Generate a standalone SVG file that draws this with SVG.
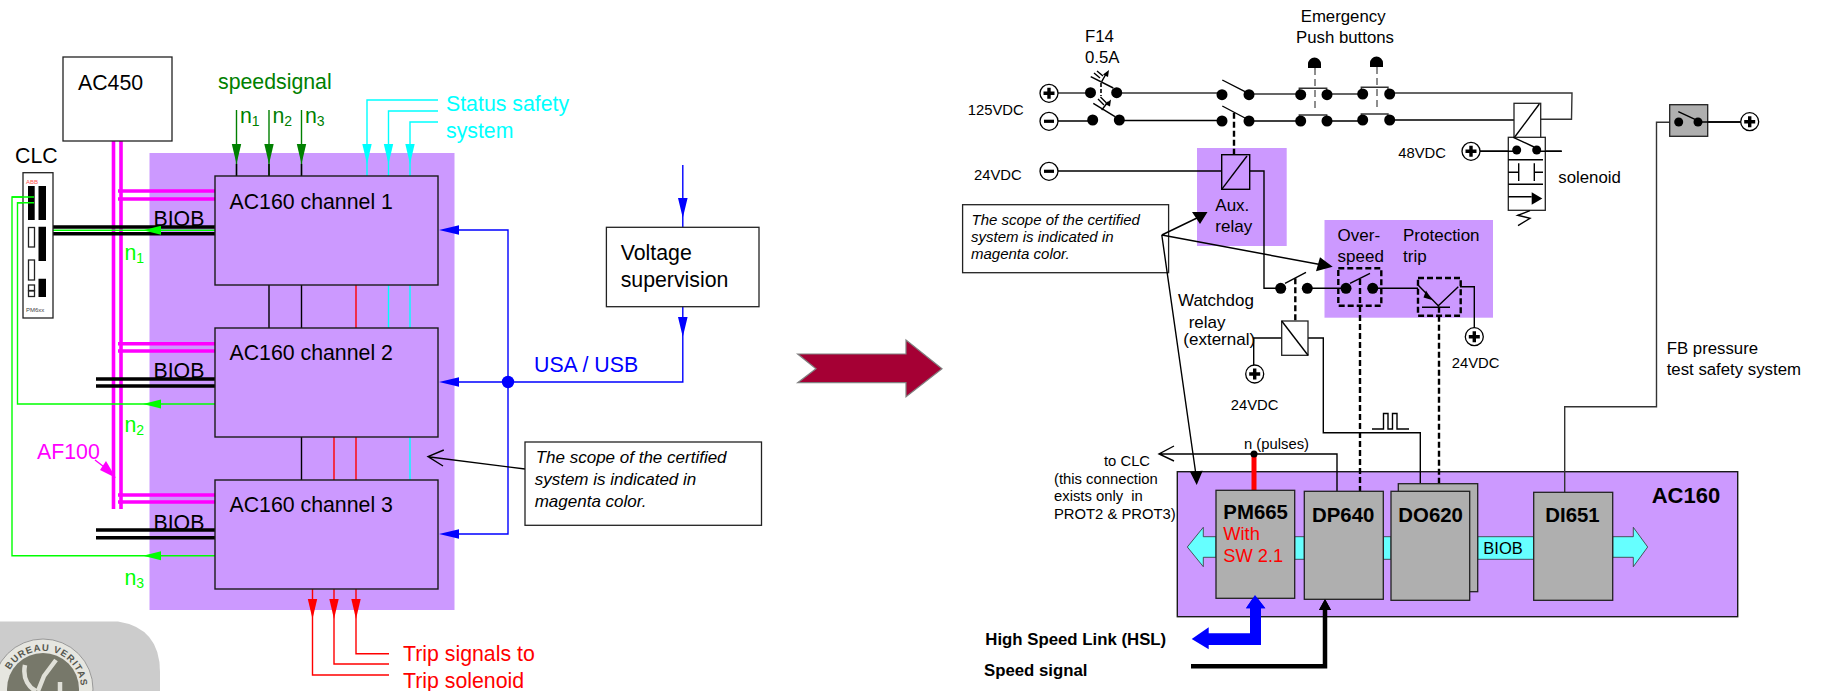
<svg xmlns="http://www.w3.org/2000/svg" xmlns:xlink="http://www.w3.org/1999/xlink" width="1822" height="691" viewBox="0 0 1822 691">
<style>
text{font-family:"Liberation Sans",Arial,sans-serif;fill:#000}
.f21{font-size:21.3px}.f17{font-size:17px}.f15{font-size:14.8px}.f168{font-size:16.8px}
.i{font-style:italic}.b{font-weight:bold}
.blk{fill:none;stroke:#000;stroke-width:1.4}
.gry{fill:none;stroke:#333;stroke-width:1.4}
.box{stroke:#1a1a1a;stroke-width:1.4}
.pur{fill:#CC99FF}.gr{fill:#AFAFAF;stroke:#222;stroke-width:1.3}.wh{fill:#fff;stroke:#222;stroke-width:1.3}
.dg{fill:none;stroke:#008000;stroke-width:1.4}.cy{fill:none;stroke:#00FFFF;stroke-width:1.4}
.rd{fill:none;stroke:#FF0000;stroke-width:1.4}.bl{fill:none;stroke:#0000FF;stroke-width:1.4}
.lg{fill:none;stroke:#00FF00;stroke-width:1.4}.mg{fill:none;stroke:#FF00FF;stroke-width:3.6}
.bk2{fill:none;stroke:#000;stroke-width:3.6}
.dash{fill:none;stroke:#000;stroke-width:2.4;stroke-dasharray:6 3}
.thin{fill:none;stroke:#444;stroke-width:1.2;stroke-dasharray:7 4}
.dot{fill:#000}
</style>
<defs>
<g id="tplus"><circle r="9" fill="#fff" stroke="#000" stroke-width="1.3"/><path d="M-5.5 0H5.5M0 -5.5V5.5" stroke="#000" stroke-width="3.4"/></g>
<g id="tminus"><circle r="9" fill="#fff" stroke="#000" stroke-width="1.3"/><path d="M-5 0H5" stroke="#000" stroke-width="3.2"/></g>
<g id="ptip"><path d="M-4.7 0H4.7L0 20Z"/></g>
<path id="seal" d="M10 670A38 38 0 0 1 81 689"/>
</defs>

<g id="logo">
<path d="M0 621.5H118Q160 628 160 672V691H0Z" fill="#CCCCCC"/>
<circle cx="43" cy="689" r="50" fill="#E6E6E0" stroke="#999" stroke-width="1"/>
<circle cx="43" cy="689" r="36" fill="#77786A"/>
<path d="M25 665C22 680 30 688 36 691M56 660L44 676L38 691M60 682V691" fill="none" stroke="#E0E0D8" stroke-width="4.500"/>
<text font-size="9.500" font-weight="bold" style="fill:#55564E"><textPath xlink:href="#seal" href="#seal" textLength="96" lengthAdjust="spacing">BUREAU VERITAS</textPath></text>
</g>

<g id="scope-left"><rect class="pur" x="149.5" y="153" width="305" height="457"/></g>

<g id="aux-relay"><rect class="pur" x="1197" y="148" width="89.7" height="98"/>
<rect x="1221.7" y="154.7" width="28" height="34.6" fill="none" stroke="#000" stroke-width="1.4"/>
<path class="blk" d="M1221.7 189.3L1247 156"/>
<text class="f17" x="1215.3" y="210.7">Aux.</text><text class="f17" x="1215.3" y="232.3">relay</text></g>

<g id="protection"><rect class="pur" x="1324.5" y="220" width="168.5" height="97.7"/>
<text class="f17" x="1337.6" y="240.7">Over-</text><text class="f17" x="1337.6" y="261.7">speed</text><text class="f17" x="1403" y="240.7">Protection</text><text class="f17" x="1403" y="261.7">trip</text>
<rect x="1338.3" y="268.3" width="43" height="37.4" fill="none" stroke="#000" stroke-width="2.4" stroke-dasharray="6 3"/>
<rect x="1418" y="278" width="42.7" height="37.7" fill="none" stroke="#000" stroke-width="2.4" stroke-dasharray="6 3"/>
<path class="blk" d="M1418 285L1438.3 305.7L1458.3 286.7M1422 307.3H1450"/>
<path class="dot" d="M1426 290.5L1423.500 297.5L1432 300Z"/>
</g>

<g id="note-right"><rect class="wh" x="962.6" y="204.7" width="206" height="68"/>
<text class="i" font-size="15" x="971.5" y="225">The scope of the certified</text><text class="i" font-size="15" x="971" y="241.7">system is indicated in</text><text class="i" font-size="15" x="971" y="259">magenta color.</text></g>

<g id="ac160"><rect class="pur box" x="1177.3" y="471.7" width="560.4" height="145"/>
<text font-size="22" class="b" x="1651.7" y="503.3">AC160</text></g>

<g id="connectors">
<path class="mg" d="M113.5 141V509M121 141V509M118 191H215M118 199H215M118 343.7H215M118 351H215M118 495H215M118 502H215"/>
<path d="M95 460L108 470" fill="none" stroke="#FF00FF" stroke-width="1.4"/>
<path d="M116 478L100 470L106 461Z" fill="#FF00FF"/>
<path class="bk2" d="M53 227H215M53 233.7H215M96 379H215M96 386H215M96 530H215M96 537.7H215"/>
<path class="lg" d="M52 230.3H215M34 202.7H17.5V404H215M34 197H12V555.7H215"/>
<path fill="#00FF00" d="M143 230.3L161 225.8V234.8ZM143 404L161 399.5V408.5ZM143 555.7L161 551.2V560.2Z"/>
<path class="dg" d="M236.5 110V176M269 110V176M301.5 110V176"/>
<g fill="#008000"><use href="#ptip" x="236.5" y="144"/><use href="#ptip" x="269" y="144"/><use href="#ptip" x="301.5" y="144"/></g>
<path class="blk" d="M236.5 164V176M269 164V176M301.5 164V176M269 285V328M301.5 285V328M301.5 437V480"/>
<path class="cy" d="M438 100H367V176M438 111H388.5V176M438 122H410V176M388.5 285V328M410 285V328M410 437V480"/>
<g fill="#00FFFF"><use href="#ptip" x="367" y="144"/><use href="#ptip" x="388.5" y="144"/><use href="#ptip" x="410" y="144"/></g>
<path class="rd" d="M356 285V328M334 437V480M356 437V480M356 589V653.7H389M334 589V664H389M312.5 589V675H389"/>
<g fill="#FF0000"><use href="#ptip" x="312.5" y="599"/><use href="#ptip" x="334" y="599"/><use href="#ptip" x="356" y="599"/></g>
<path class="bl" d="M459 230H508V534H459M459 382H682.8V307M682.8 165V227M682.8 307V340"/>
<path fill="#0000FF" d="M439 230L459 225.3V234.7ZM439 382L459 377.3V386.7ZM439 534L459 529.3V538.7ZM682.8 218L678 198H687.6ZM682.8 337L678 317H687.6Z"/>
<circle cx="508" cy="382" r="6.2" fill="#0000FF"/>
<path class="blk" d="M525 469L428 456.7M443.8 450L428 456.7L443 466"/>

<path class="gry" d="M1058 93H1090.5M1116.7 93H1222V94.7M1249 94H1300M1327 94H1362M1390 93H1572L1571.5 119.3H1540"/>
<path class="blk" d="M1058 121H1092.7M1119 120.5H1222M1249 121H1300M1327 121H1362M1390 120H1514"/>
<path class="blk" d="M1090.7 76.7L1113.3 88M1093.3 103.3L1115 116.7M1222.3 80L1245 91.7M1222.3 106L1245 118"/>
<path class="blk" d="M1101.7 81.7L1106 74M1101.7 110L1108 102"/>
<path fill="#000" d="M1109 70L1108 77L1103 74.5ZM1111 99.5L1110 106.5L1105 104Z"/>
<path class="blk" d="M1094 73L1100 78M1097 71L1103 76M1098 99L1104 105M1100.5 97L1106.5 103" stroke-width="1"/>
<path fill="none" stroke="#000" stroke-width="1.6" stroke-dasharray="4 2" d="M1101 83V96"/>
<path class="dash" d="M1234 112.7V155"/>
<path class="gry" d="M1299.3 92V88.3H1326.7V92M1299.3 118V115H1326.7V118M1361.3 91V87.3H1388V91M1361.3 117V114H1388V117"/>
<path class="thin" d="M1315 68V110M1377 67V110"/>
<path class="blk" d="M1058 171H1221.7M1249.7 171H1264V288.3H1280.7M1307.3 288.3H1346M1372.7 288.3H1418M1460 286.7H1474.3V328"/>
<path class="blk" d="M1285 283.3L1306 272.3M1350 283.3L1370 273.3"/>
<path class="dash" d="M1295.3 278.3V321M1360 279V492.3M1439 306.7V491"/>
<path class="blk" d="M1281.7 338H1253.7V366M1306.7 338H1323.3V432.7H1420.3V483.3"/>
<path class="blk" d="M1372 429H1383.5V413.5H1388V429H1392.5V413.5H1397V429H1409"/>
<path class="blk" d="M1161.8 235L1197 218M1161.8 235L1320 264.5M1161.8 235L1196 475"/>
<path fill="#000" d="M1207.5 212H1192L1200 224ZM1332.7 266.7L1320 257.3L1316 271.3ZM1196.7 485L1190 471.7L1202.7 470.7Z"/>
<path class="blk" d="M1337 491V454H1159M1174 446L1159 454L1174 461"/>
<path fill="none" stroke="#FF0000" stroke-width="5" d="M1254 456V490"/>
<path fill="#0000FF" d="M1255 595L1265.3 608.3H1261V645H1208.7V649.3L1191.7 639L1208.7 627.3V633.3H1250V608.3H1246Z"/>
<path fill="none" stroke="#000" stroke-width="4.5" d="M1191 666.3H1325V606"/>
<path fill="#000" d="M1325 599L1331 610H1319Z"/>
<path class="gry" d="M1564.7 492V406.7H1656.5V122.3H1670"/>
<path class="blk" d="M1698 122H1741M1471 151.3H1516.7M1536.7 151.3H1561.7"/>
</g>

<g id="ac450"><rect class="wh" x="63" y="57" width="109" height="84"/><text class="f21" x="78" y="90">AC450</text></g>

<g id="clc">
<text class="f21" x="15" y="163">CLC</text>
<rect class="wh" x="23" y="172.7" width="30" height="145.3"/>
<text x="26" y="184" font-size="6" style="fill:#FF5050">ABB</text>
<path d="M28 186h6.7v34h-6.7zM38.5 186h7.5v34h-7.5zM38.5 226.7h7.5v34.3h-7.5zM38.5 278.7h7.5v18.3h-7.5z"/>
<rect class="wh" x="28.5" y="227.5" width="6" height="19.5"/><rect class="wh" x="28.5" y="260" width="6" height="20"/>
<rect class="wh" x="28.5" y="285" width="6" height="5.5"/><rect class="wh" x="28.5" y="291" width="6" height="5.5"/>
<text x="26" y="311.7" font-size="6" style="fill:#444">PM6xx</text>
<path class="lg" d="M17.5 202.7H34M12 197H34"/>
</g>

<g id="channel1"><rect class="pur box" x="215" y="176" width="223" height="109"/><text class="f21" x="229.5" y="209">AC160 channel 1</text></g>
<g id="channel2"><rect class="pur box" x="215" y="328" width="223" height="109"/><text class="f21" x="229.5" y="360">AC160 channel 2</text></g>
<g id="channel3"><rect class="pur box" x="215" y="480" width="223" height="109"/><text class="f21" x="229.5" y="512">AC160 channel 3</text></g>

<g id="labels-left">
<text class="f21" x="218" y="89" style="fill:#008000">speedsignal</text>
<text class="f21" x="240" y="122.7" style="fill:#008000">n<tspan font-size="14" dy="3">1</tspan></text>
<text class="f21" x="272.5" y="122.7" style="fill:#008000">n<tspan font-size="14" dy="3">2</tspan></text>
<text class="f21" x="305" y="122.7" style="fill:#008000">n<tspan font-size="14" dy="3">3</tspan></text>
<text class="f21" x="446" y="110.5" style="fill:#00FFFF">Status safety</text>
<text class="f21" x="446" y="138" style="fill:#00FFFF">system</text>
<text class="f21" x="153.5" y="226">BIOB</text><text class="f21" x="153.5" y="378">BIOB</text><text class="f21" x="153.5" y="530">BIOB</text>
<text class="f21" x="124.5" y="260" style="fill:#00FF00">n<tspan font-size="14" dy="3">1</tspan></text>
<text class="f21" x="124.5" y="432" style="fill:#00FF00">n<tspan font-size="14" dy="3">2</tspan></text>
<text class="f21" x="124.5" y="585" style="fill:#00FF00">n<tspan font-size="14" dy="3">3</tspan></text>
<text class="f21" x="37" y="459" style="fill:#FF00FF">AF100</text>
<text class="f21" x="403" y="661" style="fill:#FF0000">Trip signals to</text>
<text class="f21" x="403" y="688" style="fill:#FF0000">Trip solenoid</text>
<text class="f21" x="534" y="371.7" style="fill:#0000FF">USA / USB</text>
</g>

<g id="voltage"><rect class="wh" x="606.4" y="227.3" width="152.6" height="79.4"/><text class="f21" x="620.7" y="260">Voltage</text><text class="f21" x="620.7" y="287">supervision</text></g>
<g id="note-left"><rect class="wh" x="525" y="442" width="236.5" height="83.3"/>
<text class="i" font-size="17" x="535.7" y="463">The scope of the certified</text><text class="i" font-size="17" x="534.7" y="485">system is indicated in</text><text class="i" font-size="17" x="534.7" y="506.7">magenta color.</text></g>

<g id="big-arrow"><path d="M797.7 354H906V340L942 368.7L906 396.7V382.7H797.7L816 368.7Z" fill="#A50034" stroke="#808080" stroke-width="1.2"/></g>

<g id="power">
<use href="#tplus" x="1049" y="93.3"/><use href="#tminus" x="1049" y="121.3"/><use href="#tminus" x="1049" y="171.3"/>
<text class="f15" x="967.7" y="115">125VDC</text><text class="f15" x="974" y="180">24VDC</text>
<text class="f168" x="1085" y="41.7">F14</text><text class="f168" x="1085" y="62.7">0.5A</text>
<text class="f168" x="1300.7" y="22">Emergency</text><text class="f168" x="1296" y="42.7">Push buttons</text>
<g class="dot">
<circle cx="1090.5" cy="92.7" r="5.5"/><circle cx="1116.7" cy="92.7" r="5.5"/><circle cx="1092.7" cy="120" r="5.5"/><circle cx="1119.3" cy="120" r="5.5"/>
<circle cx="1222" cy="94.7" r="5.5"/><circle cx="1249" cy="94.7" r="5.5"/><circle cx="1222" cy="121" r="5.5"/><circle cx="1249" cy="121" r="5.5"/>
<circle cx="1300.7" cy="94.7" r="5.5"/><circle cx="1327" cy="94.7" r="5.5"/><circle cx="1300.7" cy="121" r="5.5"/><circle cx="1327" cy="121" r="5.5"/>
<circle cx="1362.7" cy="94" r="5.5"/><circle cx="1389.7" cy="94" r="5.5"/><circle cx="1362.7" cy="120" r="5.5"/><circle cx="1389.7" cy="120" r="5.5"/>
<path d="M1308 68V64A6.5 6.5 0 0 1 1321 64V68ZM1370 67V63A6.5 6.5 0 0 1 1383 63V67Z"/>
</g>
</g>

<g id="solenoid">
<rect class="wh" x="1514" y="103.3" width="26.7" height="34.7"/><path class="blk" d="M1514 138L1539.3 104"/>
<rect class="wh" x="1508.3" y="137.3" width="37" height="73"/>
<circle class="dot" cx="1516.7" cy="150" r="4.5"/><circle class="dot" cx="1536.7" cy="150" r="4.5"/>
<path class="blk" d="M1513.3 137.3L1534 147M1508.3 159.7H1543M1508.3 184.3H1543M1508.3 172.3H1518.7M1518.7 163.3V181M1534.3 163.3V181M1534.3 172.3H1543M1508.3 196.7H1531.7M1530 210.7L1517.7 215.3L1530 218.3L1518 225.7M1536.7 151.3H1561.7"/>
<path class="dot" d="M1531.7 192.3L1542.3 198.5L1531.7 204.7Z"/>
<path class="blk" d="M1480 151.3H1516.7"/>
<use href="#tplus" x="1471" y="151.3"/>
<text class="f15" x="1398.3" y="157.7">48VDC</text><text class="f168" x="1558.3" y="182.7">solenoid</text>
</g>

<g id="fb-switch"><rect class="gr" x="1669.7" y="104.7" width="38" height="31.6"/>
<circle class="dot" cx="1678.7" cy="122" r="4.5"/><circle class="dot" cx="1698" cy="122" r="4.5"/><path class="blk" d="M1678.3 111.7L1695 119.3M1698 122H1741"/>
<use href="#tplus" x="1749.7" y="121.7"/></g>
<g id="fb-label"><text class="f168" x="1666.7" y="354">FB pressure</text><text class="f168" x="1666.7" y="375.3">test safety system</text></g>

<g id="overspeed-relay" class="dot"><circle cx="1346" cy="288.3" r="5.5"/><circle cx="1372.7" cy="288.3" r="5.5"/></g>
<g id="watchdog">
<circle class="dot" cx="1280.7" cy="288.3" r="5.5"/><circle class="dot" cx="1307.3" cy="288.3" r="5.5"/>
<rect class="wh" x="1281.7" y="321" width="26.3" height="34.3"/><path class="blk" d="M1281.7 321L1308 355.3"/>
<use href="#tplus" x="1254.7" y="374"/><use href="#tplus" x="1474.3" y="336.7"/>
<text class="f17" x="1178" y="306">Watchdog</text><text class="f17" x="1188.7" y="328.3">relay</text><text class="f17" x="1183.3" y="345">(external)</text>
<text class="f15" x="1230.7" y="410">24VDC</text><text class="f15" x="1451.7" y="367.7">24VDC</text>
</g>

<g id="biob-bus">
<path d="M1187.3 547L1203.3 527.3V536.7H1216V557.3H1203.3V566.7ZM1294.7 536.7H1304.3V559.3H1294.7ZM1383.3 536.7H1391V559.3H1383.3ZM1477.7 536.7H1533.7V559.3H1477.7ZM1612.7 536.7H1633.3V527.3L1647.7 547L1633.3 566.7V557.3H1612.7Z" fill="#66FFFF" stroke="#333" stroke-width=".8"/>
<text font-size="16.5" x="1483.3" y="554">BIOB</text></g>
<g id="pm665"><rect class="gr" x="1216" y="490.3" width="78.7" height="108"/>
<text font-size="20.4" class="b" x="1223.3" y="519.3">PM665</text><text font-size="18.3" x="1223.3" y="540" style="fill:#FF0000">With</text><text font-size="18.3" x="1223.3" y="561.7" style="fill:#FF0000">SW 2.1</text></g>
<g id="dp640"><rect class="gr" x="1304.3" y="491.3" width="79" height="108"/><text font-size="20.4" class="b" x="1312" y="521.7">DP640</text></g>
<g id="do620"><rect class="gr" x="1398.3" y="483.7" width="79.4" height="108"/><rect class="gr" x="1391" y="491.3" width="78.7" height="109"/><text font-size="20.4" class="b" x="1398.3" y="521.7">DO620</text></g>
<g id="di651"><rect class="gr" x="1533.7" y="492.3" width="79" height="108"/><text font-size="20.4" class="b" x="1545.3" y="521.7">DI651</text></g>
<g id="overlay">
<path fill="#0000FF" d="M1255 595L1265.3 608.3H1246Z"/><path fill="#000" d="M1325 599L1331 610H1319Z"/>
<circle class="dot" cx="1254" cy="454" r="3.5"/>
<text class="f15" x="1244" y="449">n (pulses)</text>
<text class="f15" x="1104" y="465.7">to CLC</text><text class="f15" x="1054" y="484">(this connection</text><text class="f15" x="1054" y="501" xml:space="preserve">exists only  in</text><text class="f15" x="1054" y="519">PROT2 &amp; PROT3)</text>
<text font-size="16.8" class="b" x="985.3" y="645">High Speed Link (HSL)</text><text font-size="16.8" class="b" x="984" y="675.7">Speed signal</text>
</g>
</svg>
